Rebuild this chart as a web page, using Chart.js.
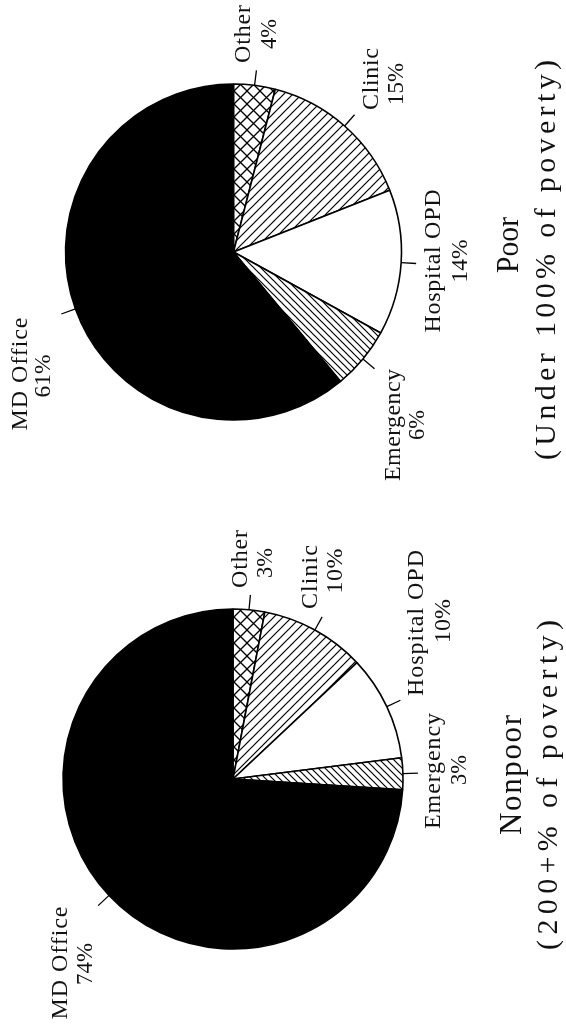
<!DOCTYPE html>
<html><head><meta charset="utf-8">
<script src="https://cdn.jsdelivr.net/npm/chart.js@4.4.0/dist/chart.umd.min.js"></script>
<style>
html,body{margin:0;padding:0;background:#fff;width:566px;height:1027px;overflow:hidden}
.box{position:absolute;left:0;width:566px}
canvas{display:block}
</style></head><body>
<div class="box" style="top:0;height:513px"><canvas id="poor" width="566" height="513"></canvas></div>
<div class="box" style="top:513px;height:514px"><canvas id="nonpoor" width="566" height="514"></canvas></div>
<script>
// ---- data ----
const categories = ['Other', 'Clinic', 'Hospital OPD', 'Emergency', 'MD Office'];
const poorValues = [4, 15, 14, 6, 61];
const nonpoorValues = [3, 10, 10, 3, 74];
const poorTitle = ['Poor', '(Under 100% of poverty)'];
const nonpoorTitle = ['Nonpoor', '(200+% of poverty)'];

// ---- fill patterns ----
function hatchTile(size, dirs, lw) {
  const c = document.createElement('canvas');
  c.width = size; c.height = size;
  const g = c.getContext('2d');
  g.fillStyle = '#fff'; g.fillRect(0, 0, size, size);
  g.strokeStyle = '#000'; g.lineWidth = lw; g.lineCap = 'butt';
  for (const d of dirs) {
    for (let k = -1; k <= 1; k++) {
      g.beginPath();
      if (d === 'back') { g.moveTo(-size, -size + k * size); g.lineTo(2 * size, 2 * size + k * size); }
      else { g.moveTo(-size, 2 * size + k * size); g.lineTo(2 * size, -size + k * size); }
      g.stroke();
    }
  }
  return g.createPattern(c, 'repeat');
}
const fills = [
  hatchTile(13, ['back', 'fwd'], 1.3),   // Other: cross-hatch
  hatchTile(9, ['fwd'], 1.2),            // Clinic: forward diagonal
  '#ffffff',                             // Hospital OPD: white
  hatchTile(7, ['back'], 1.2),           // Emergency: back diagonal
  '#000000'                              // MD Office: black
];

// ---- layout (text anchors: along-text centre y, baseline x, target length) ----
const FONT = '"Liberation Serif", "DejaVu Serif", serif';
const LABEL_SIZE = 24;
const poorLayout = {
  radius: 168, padding: {left: 0, right: 99, top: 0, bottom: 9},
  labels: [
    {name: {y: 34, x: 250, w: 58}, pct: {y: 34, x: 276, w: 30}},
    {name: {y: 79, x: 378, w: 62}, pct: {y: 84, x: 403, w: 42}},
    {name: {y: 261, x: 440, w: 143}, pct: {y: 261, x: 467, w: 43}},
    {name: {y: 425, x: 400, w: 112}, pct: {y: 425, x: 424, w: 30}},
    {name: {y: 374, x: 27, w: 113}, pct: {y: 376, x: 50, w: 43}}
  ],
  titles: [{y: 245, x: 518, w: 56, size: 31}, {y: 260, x: 555, w: 400, size: 30}]
};
const nonpoorLayout = {
  radius: 170, padding: {left: 0, right: 100, top: 18, bottom: 0},
  labels: [
    {name: {y: 46, x: 247, w: 58}, pct: {y: 50, x: 272, w: 30}},
    {name: {y: 64, x: 317, w: 64}, pct: {y: 58, x: 342, w: 45}},
    {name: {y: 110, x: 423, w: 146}, pct: {y: 108, x: 450, w: 44}},
    {name: {y: 258, x: 440, w: 116}, pct: {y: 257, x: 466, w: 30}},
    {name: {y: 450, x: 67, w: 113}, pct: {y: 451, x: 92, w: 42}}
  ],
  titles: [{y: 262, x: 521, w: 120, size: 31}, {y: 272, x: 557, w: 330, size: 30}]
};

function drawRotText(ctx, text, along, baseX, targetW, size) {
  ctx.save();
  ctx.font = size + 'px ' + FONT;
  ctx.fillStyle = '#111';
  ctx.translate(baseX, along);
  ctx.rotate(-Math.PI / 2);
  ctx.textAlign = 'center';
  ctx.textBaseline = 'alphabetic';
  const w = ctx.measureText(text).width;
  let ls = text.length > 1 ? (targetW - w) / (text.length - 1) : 0;
  if ('letterSpacing' in ctx && ls >= 0) {
    ctx.letterSpacing = ls.toFixed(2) + 'px';
    ctx.fillText(text, ls / 2, 0);
  } else {
    ctx.scale(targetW / w, 1);
    ctx.fillText(text, 0, 0);
  }
  ctx.restore();
}

const annotate = {
  id: 'annotate',
  afterDraw(chart, args, opts) {
    const ctx = chart.ctx;
    const L = opts.layout;
    const meta = chart.getDatasetMeta(0);
    const vals = chart.data.datasets[0].data;
    ctx.save();
    ctx.strokeStyle = '#000';
    ctx.lineWidth = 1.3;
    meta.data.forEach((arc, i) => {
      const p = arc.getProps(['x', 'y', 'startAngle', 'endAngle', 'outerRadius'], true);
      const mid = (p.startAngle + p.endAngle) / 2;
      const r0 = p.outerRadius, r1 = p.outerRadius + 15;
      ctx.beginPath();
      ctx.moveTo(p.x + Math.cos(mid) * r0, p.y + Math.sin(mid) * r0);
      ctx.lineTo(p.x + Math.cos(mid) * r1, p.y + Math.sin(mid) * r1);
      ctx.stroke();
      const lab = L.labels[i];
      drawRotText(ctx, chart.data.labels[i], lab.name.y, lab.name.x, lab.name.w, LABEL_SIZE);
      drawRotText(ctx, vals[i] + '%', lab.pct.y, lab.pct.x, lab.pct.w, LABEL_SIZE);
    });
    opts.title.forEach((t, j) => {
      const s = L.titles[j];
      drawRotText(ctx, t, s.y, s.x, s.w, s.size);
    });
    ctx.restore();
  }
};

function makePie(id, values, title, layout) {
  return new Chart(document.getElementById(id), {
    type: 'pie',
    data: {
      labels: categories,
      datasets: [{
        data: values,
        backgroundColor: fills,
        borderColor: '#000',
        borderWidth: 1.6,
        hoverOffset: 0
      }]
    },
    options: {
      responsive: false,
      animation: false,
      rotation: 0,
      radius: layout.radius,
      layout: {padding: layout.padding},
      events: [],
      plugins: {
        legend: {display: false},
        tooltip: {enabled: false},
        annotate: {layout: layout, title: title}
      }
    },
    plugins: [annotate]
  });
}

makePie('poor', poorValues, poorTitle, poorLayout);
makePie('nonpoor', nonpoorValues, nonpoorTitle, nonpoorLayout);
</script>
</body></html>
